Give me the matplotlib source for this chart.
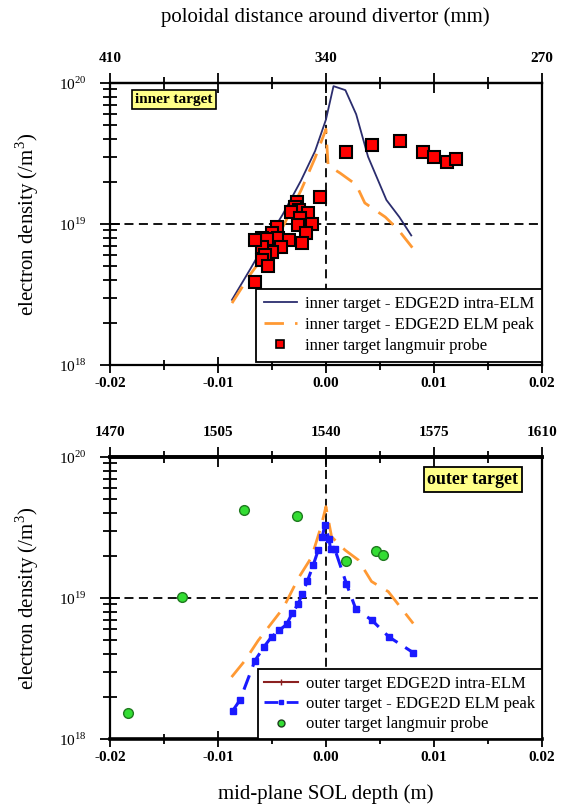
import numpy as np
import matplotlib
matplotlib.use("Agg")
import matplotlib.pyplot as plt
from matplotlib.lines import Line2D

plt.rcParams['font.family'] = 'serif'
plt.rcParams['font.serif'] = ['Liberation Serif', 'DejaVu Serif']
plt.rcParams['mathtext.fontset'] = 'custom'
plt.rcParams['mathtext.rm'] = 'Liberation Serif'

# ---- inner target (upper panel) ----
# EDGE2D intra-ELM profile
in_intra_x = [-0.0087, -0.0070, -0.0055, -0.0040, -0.0023, -0.0010, 0.0000,
              0.0007, 0.0018, 0.0028, 0.0039, 0.0056, 0.0068, 0.0079]
in_intra_n = [2.9e18, 4.8e18, 7.6e18, 1.17e19, 2.04e19, 3.3e19, 5.5e19,
              9.5e19, 8.9e19, 6.0e19, 3.0e19, 1.48e19, 1.12e19, 8.3e18]
# EDGE2D ELM peak profile
in_peak_x = [-0.0087, -0.0070, -0.0055, -0.0040, -0.0023, -0.0010, 0.0000,
             0.0002, 0.0013, 0.0028, 0.0036, 0.0055, 0.0067, 0.0080]
in_peak_n = [2.75e18, 4.4e18, 6.3e18, 9.5e18, 1.74e19, 2.95e19, 4.7e19,
             2.6e19, 2.3e19, 1.9e19, 1.41e19, 1.12e19, 9.1e18, 6.8e18]
# langmuir probe
in_lp_x = [-0.00056, -0.00266, -0.00287, -0.0025, -0.00319, -0.0017, -0.0024,
           -0.00127, -0.00256, -0.00189, -0.0022, -0.00451, -0.00497, -0.00442,
           -0.00346, -0.00596, -0.0055, -0.0042, -0.00497, -0.00596, -0.00565,
           -0.00596, -0.0054, -0.00657, -0.00657,
           0.00185, 0.00429, 0.00685, 0.00895, 0.0100, 0.01123, 0.0120]
in_lp_n = [1.56e19, 1.44e19, 1.33e19, 1.26e19, 1.22e19, 1.19e19, 1.10e19,
           9.95e18, 9.8e18, 8.6e18, 7.3e18, 9.5e18, 8.6e18, 8.0e18,
           7.7e18, 7.9e18, 7.8e18, 6.9e18, 6.3e18, 6.9e18, 6.0e18,
           5.6e18, 5.0e18, 3.9e18, 7.7e18,
           3.26e19, 3.63e19, 3.9e19, 3.26e19, 3.0e19, 2.75e19, 2.9e19]

# ---- outer target (lower panel) ----
out_intra_x = []
out_intra_n = []
out_peak_x = [-0.00865, -0.00796, -0.00657, -0.00574, -0.00504, -0.00432,
              -0.00365, -0.00312, -0.00256, -0.0022, -0.00173, -0.00118,
              -0.00071, -0.00034, -0.0001, 0.00028, 0.00043, 0.00083,
              0.0019, 0.00278, 0.00422, 0.00583, 0.00808]
out_peak_n = [1.58e18, 1.89e18, 3.6e18, 4.5e18, 5.3e18, 5.9e18,
              6.5e18, 7.8e18, 9.1e18, 1.07e19, 1.31e19, 1.71e19,
              2.19e19, 2.72e19, 3.3e19, 2.63e19, 2.21e19, 2.21e19,
              1.26e19, 8.3e18, 7.0e18, 5.3e18, 4.1e18]
out_elm_x = [-0.00874, -0.0075, -0.00627, -0.00395, -0.00256, -0.00133,
             -0.00046, 0.0, 0.00052, 0.00176, 0.003, 0.00422, 0.00577, 0.00808]
out_elm_n = [2.75e18, 3.6e18, 5.0e18, 8.5e18, 1.38e19, 1.95e19,
             3.2e19, 4.45e19, 2.72e19, 2.19e19, 1.86e19, 1.31e19, 1.11e19, 6.6e18]
out_lp_x = [-0.0183, -0.01337, -0.0076, -0.00266, 0.0019, 0.0046, 0.0053]
out_lp_n = [1.54e18, 1.01e19, 4.2e19, 3.8e19, 1.84e19, 2.15e19, 2.02e19]

x_ticks = [-0.02, -0.01, 0.0, 0.01, 0.02]
x_tick_labels = ['-0.02', '-0.01', '0.00', '0.01', '0.02']
in_top_ticks = [410, 375, 340, 305, 270]
in_top_labels = ['410', '', '340', '', '270']
out_top_ticks = [1470, 1505, 1540, 1575, 1610]
out_top_labels = ['1470', '1505', '1540', '1575', '1610']

fig = plt.figure(figsize=(5.61, 8.09), dpi=100)
ax1 = fig.add_axes([0.196, 0.5488, 0.770, 0.3486])
ax2 = fig.add_axes([0.196, 0.0865, 0.770, 0.3486])


def style_axes(ax):
    ax.set_xlim(-0.02, 0.02)
    ax.set_yscale('log')
    ax.set_ylim(1e18, 1e20)
    ax.set_xticks(x_ticks)
    ax.set_xticklabels(x_tick_labels)
    ax.set_xticks([-0.015, -0.005, 0.005, 0.015], minor=True)
    ax.set_yticks([1e18, 1e19, 1e20])
    ax.set_yticklabels([r'$10^{18}$', r'$10^{19}$', r'$10^{20}$'])
    ax.tick_params(axis='x', which='major', direction='inout', length=11, width=1.3,
                   pad=3, labelsize=11)
    ax.tick_params(axis='x', which='minor', direction='inout', length=7, width=1.3)
    ax.tick_params(axis='y', which='major', direction='inout', length=15, width=1.3,
                   pad=9, labelsize=11)
    ax.tick_params(axis='y', which='minor', direction='inout', length=10, width=1.3)
    for lab in ax.get_xticklabels():
        lab.set_fontweight('bold')
    for sp in ax.spines.values():
        sp.set_linewidth(1.6)
    ax.axhline(1e19, color='black', lw=1.3, ls=(0, (5, 3)), zorder=1)
    ax.axvline(0.0, color='black', lw=1.3, ls=(0, (5, 3)), zorder=1)
    ax.set_ylabel(r'electron density (/m$^{3}$)', fontsize=15)
    ax.yaxis.set_label_coords(-0.16, 0.5)


def top_axis(ax, fwd, inv, ticks, labels):
    sec = ax.secondary_xaxis('top', functions=(fwd, inv))
    sec.set_xticks(ticks)
    sec.set_xticklabels(labels)
    minor = [(a + b) / 2 for a, b in zip(ticks[:-1], ticks[1:])]
    sec.set_xticks(minor, minor=True)
    sec.tick_params(which='major', direction='inout', length=14, width=1.3, pad=6,
                    labelsize=11)
    sec.tick_params(which='minor', direction='inout', length=9, width=1.3)
    for lab in sec.get_xticklabels():
        lab.set_fontweight('bold')
    sec.spines['top'].set_linewidth(1.6)
    return sec


# upper panel
style_axes(ax1)
ax1.plot(in_intra_x, in_intra_n, color='#2b2d6e', lw=1.3, zorder=3)
ax1.plot(in_peak_x, in_peak_n, color='#ff9933', lw=2.0, ls=(0, (7, 4)), zorder=3)
ax1.plot(in_lp_x, in_lp_n, ls='none', marker='s', ms=8, mfc='#ff0000',
         mec='black', mew=1.5, zorder=4)
sec1 = top_axis(ax1, lambda x: 340 - 3500 * x, lambda m: (340 - m) / 3500,
                in_top_ticks, in_top_labels)
fig.text(0.579, 0.979, 'poloidal distance around divertor (mm)', fontsize=15,
         ha='center', va='center')

ax1.text(0.058, 0.94, 'inner target', transform=ax1.transAxes, fontsize=11,
         fontweight='bold', va='center', ha='left',
         bbox=dict(boxstyle='square,pad=0.2', fc='#ffff88', ec='black', lw=1.2))

h1 = [Line2D([], [], color='#2b2d6e', lw=1.3),
      Line2D([], [], color='#ff9933', lw=2.0, ls=(0, (7, 4))),
      Line2D([], [], ls='none', marker='s', ms=6, mfc='#ff0000', mec='black', mew=1.2)]
leg1 = ax1.legend(h1, ['inner target - EDGE2D intra-ELM',
                       'inner target - EDGE2D ELM peak',
                       'inner target langmuir probe'],
                  loc='lower right', bbox_to_anchor=(1.0, 0.012), borderaxespad=0,
                  fontsize=12, fancybox=False, framealpha=1, edgecolor='black',
                  handlelength=2.0, handletextpad=0.5, labelspacing=0.3,
                  borderpad=0.45)
leg1.get_frame().set_linewidth(1.3)
leg1.set_zorder(5)

# lower panel
style_axes(ax2)
ax2.spines['top'].set_linewidth(2.6)
ax2.spines['bottom'].set_linewidth(2.6)
ax2.plot(out_intra_x, out_intra_n, color='#8b2020', lw=1.5, zorder=3)
ax2.plot(out_elm_x, out_elm_n, color='#ff9933', lw=2.0, ls=(0, (7, 4)), zorder=3)
ax2.plot(out_peak_x, out_peak_n, color='#1a1aff', lw=2.2, ls=(0, (5, 3)),
         marker='s', ms=4, mec='#1a1aff', zorder=3)
ax2.plot(out_lp_x, out_lp_n, ls='none', marker='o', ms=7, mfc='#33dd33',
         mec='#1f7a1f', mew=1.0, zorder=4)
sec2 = top_axis(ax2, lambda x: 1540 + 3500 * x, lambda m: (m - 1540) / 3500,
                out_top_ticks, out_top_labels)
sec2.spines['top'].set_linewidth(2.6)
ax2.set_xlabel('mid-plane SOL depth (m)', fontsize=15)
ax2.xaxis.set_label_coords(0.5, -0.16)

ax2.text(0.735, 0.92, 'outer target', transform=ax2.transAxes, fontsize=13,
         fontweight='bold', va='center', ha='left',
         bbox=dict(boxstyle='square,pad=0.2', fc='#ffff88', ec='black', lw=1.3))

h2 = [Line2D([], [], color='#8b2020', lw=1.5, marker='|', ms=4),
      Line2D([], [], color='#1a1aff', lw=2.0, ls=(0, (5, 3)), marker='s', ms=3,
             markevery=[1]),
      Line2D([], [], ls='none', marker='o', ms=5, mfc='#33dd33', mec='#1f3f1f', mew=1.0)]
leg2 = ax2.legend(h2, ['outer target EDGE2D intra-ELM',
                       'outer target - EDGE2D ELM peak',
                       'outer target langmuir probe'],
                  loc='lower right', bbox_to_anchor=(1.0, 0.0), borderaxespad=0,
                  fontsize=12, fancybox=False, framealpha=1, edgecolor='black',
                  handlelength=2.0, handletextpad=0.5, labelspacing=0.25,
                  borderpad=0.4)
leg2.get_frame().set_linewidth(1.3)
leg2.set_zorder(5)

fig.savefig('out.png', dpi=100)
